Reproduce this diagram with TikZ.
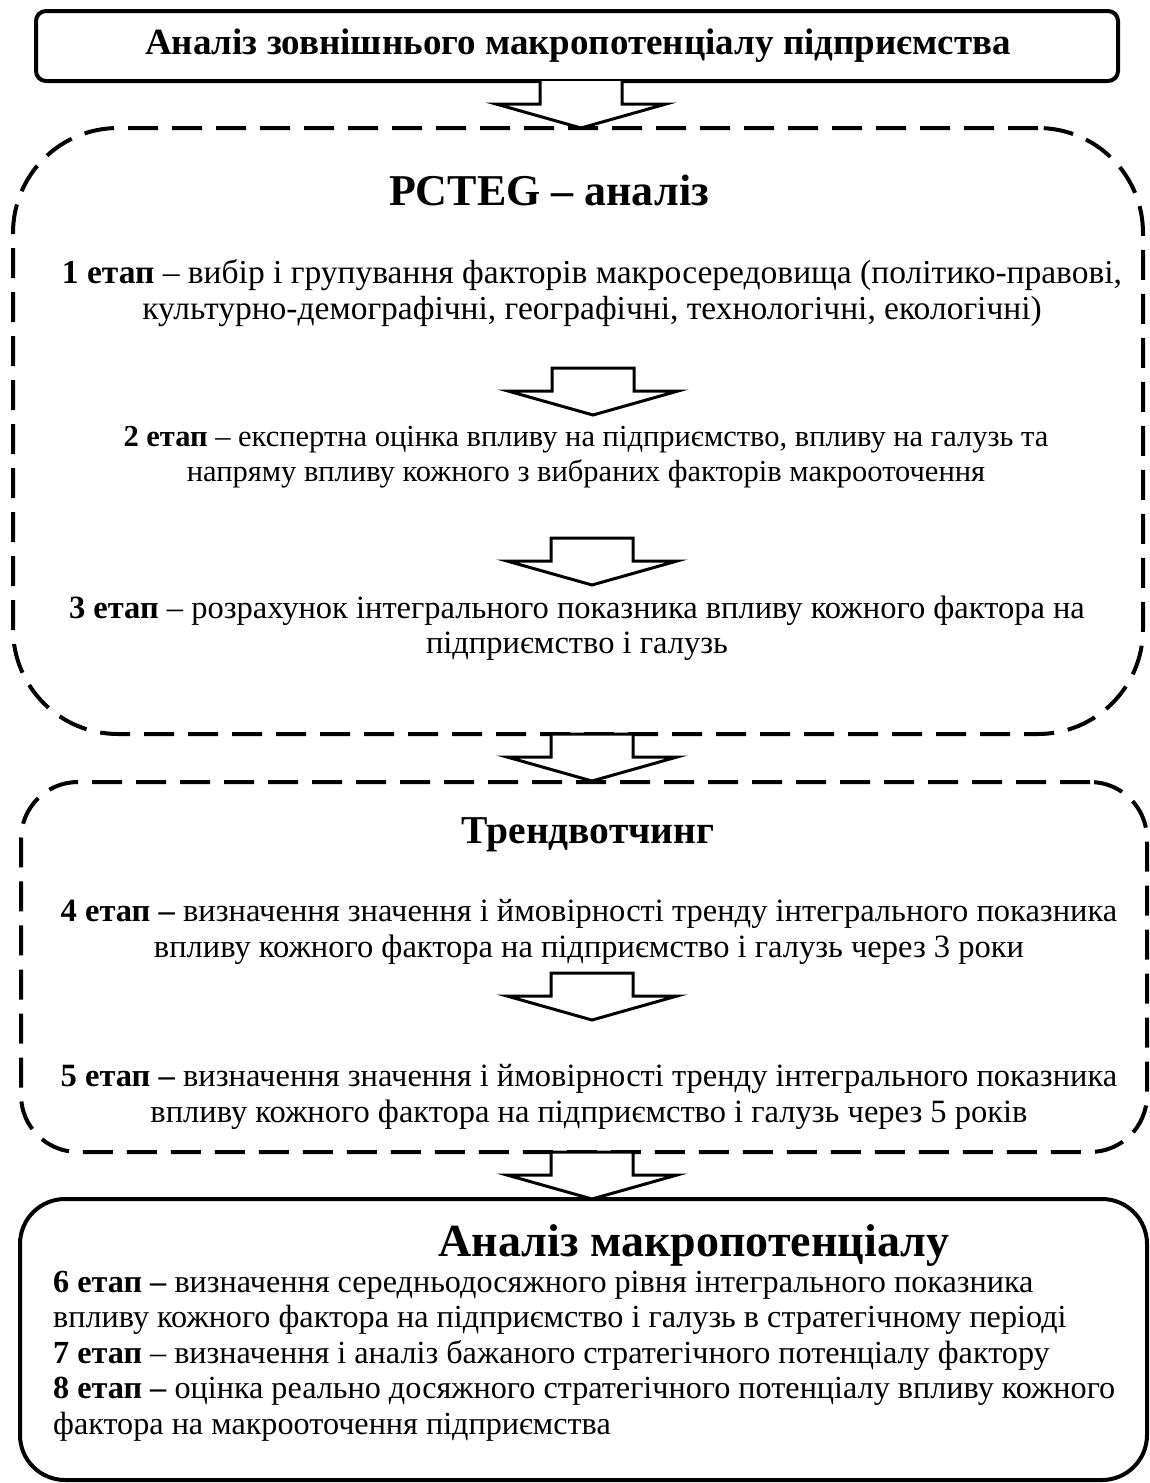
\documentclass[tikz,border=0pt]{standalone}
\usepackage{fontspec}
\setmainfont{Liberation Serif}
\begin{document}
\begin{tikzpicture}[x=1pt,y=-1pt,
  boxsolid/.style={draw, line width=4pt},
  boxdash/.style={draw, line width=4pt, dash pattern=on 30pt off 14pt},
  blk/.style={draw, line width=3pt, fill=white, line join=miter},
  body/.style={font=\fontsize{32.5}{35.5}\selectfont, align=center, inner sep=0pt},
  ttl/.style={font=\fontsize{37}{40}\selectfont\bfseries, inner sep=0pt},
  pics/blockarrow/.style={code={
    \draw[blk] (-41,0) -- (-41,23) -- (-85,23) -- (0,47) -- (85,23) -- (41,23) -- (41,0) -- cycle;
  }},
  pics/blockarrowopen/.style={code={
    \draw[blk] (-41,0) -- (-41,23) -- (-85,23) -- (0,47) -- (85,23) -- (41,23) -- (41,0);
  }}
]
\useasboundingbox (0,0) rectangle (1149,1483);

% boxes
\node[boxsolid, rounded corners=10pt, minimum width=1082pt, minimum height=70pt] (box0) at (577,46) {};
\node[boxdash, rounded corners=105pt, minimum width=1130pt, minimum height=606pt] (box1) at (578,431) {};
\node[boxdash, rounded corners=57pt, minimum width=1126pt, minimum height=370pt] (box2) at (584,967) {};
\node[boxsolid, rounded corners=45pt, minimum width=1127pt, minimum height=281pt] (box3) at (583.5,1339.5) {};

% connectors between boxes (block arrows)
\pic at (581,81) {blockarrowopen};
\pic at (592,734) {blockarrow};
\pic at (592,1152) {blockarrow};

% inner arrows
\pic at (593,368) {blockarrow};
\pic at (592,538) {blockarrow};
\pic at (592,973) {blockarrow};

% texts
\node[ttl] (title) at (578,46) {Аналіз зовнішнього макропотенціалу підприємства};
\node[ttl, font=\fontsize{44}{48}\selectfont\bfseries] (pcteg) at (549,190) {PCTEG – аналіз};
\node[body, font=\fontsize{33.5}{35.5}\selectfont] (s1) at (592,293) {\textbf{1 етап} – вибір і групування факторів макросередовища (політико-правові,\\культурно-демографічні, географічні, технологічні, екологічні)};
\node[body, font=\fontsize{30.5}{35.5}\selectfont] (s2) at (586,457) {\textbf{2 етап} – експертна оцінка впливу на підприємство, впливу на галузь та\\напряму впливу кожного з вибраних факторів макрооточення};
\node[body] (s3) at (577,628) {\textbf{3 етап} – розрахунок інтегрального показника впливу кожного фактора на\\підприємство і галузь};
\node[ttl, font=\fontsize{39.5}{44}\selectfont\bfseries] (trend) at (588,835) {Трендвотчинг};
\node[body] (s4) at (589,932) {\textbf{4 етап –} визначення значення і ймовірності тренду інтегрального показника\\впливу кожного фактора на підприємство і галузь через 3 роки};
\node[body] (s5) at (589,1097) {\textbf{5 етап –} визначення значення і ймовірності тренду інтегрального показника\\впливу кожного фактора на підприємство і галузь через 5 років};
\node[ttl, font=\fontsize{46}{50}\selectfont\bfseries] (macro) at (694,1245) {Аналіз макропотенціалу};
\node[body, font=\fontsize{32.2}{35.5}\selectfont, align=left, anchor=west] (s678) at (53,1356) {\textbf{6 етап –} визначення середньодосяжного рівня інтегрального показника\\впливу кожного фактора на підприємство і галузь в стратегічному періоді\\\textbf{7 етап} – визначення і аналіз бажаного стратегічного потенціалу фактору\\\textbf{8 етап –} оцінка реально досяжного стратегічного потенціалу впливу кожного\\фактора на макрооточення підприємства};
\end{tikzpicture}
\end{document}
